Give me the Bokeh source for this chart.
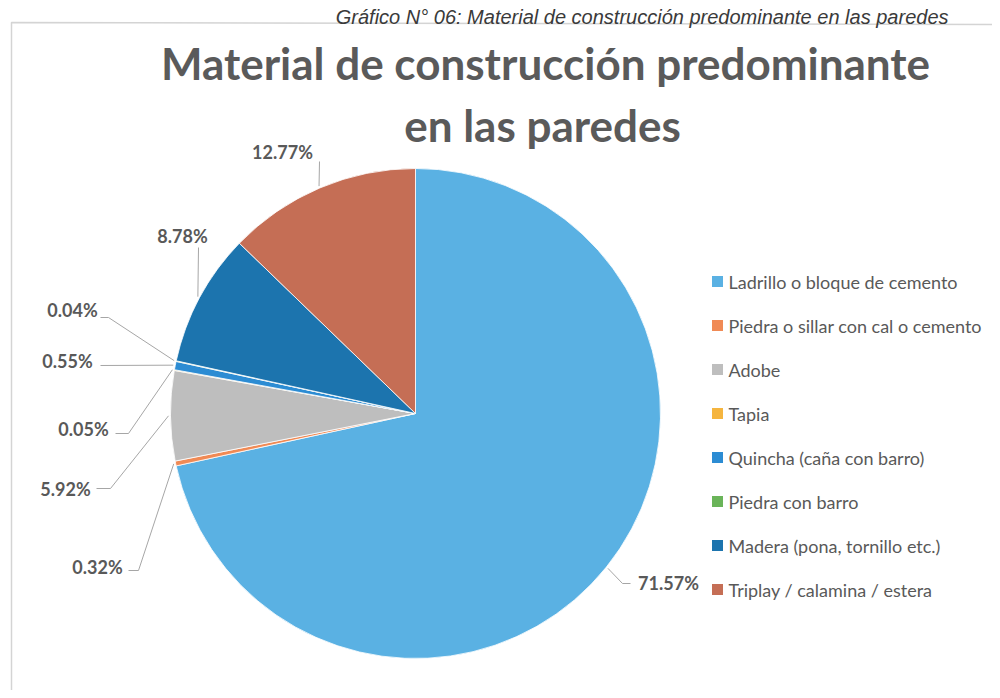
import math
from bokeh.plotting import figure
from bokeh.models import Range1d, ColumnDataSource
from bokeh.core.properties import value
from bokeh.embed import file_html
from bokeh.resources import INLINE

# ---------------- data ----------------
categories = [
    "Ladrillo o bloque de cemento",
    "Piedra o sillar con cal o cemento",
    "Adobe",
    "Tapia",
    "Quincha (caña con barro)",
    "Piedra con barro",
    "Madera (pona, tornillo etc.)",
    "Triplay / calamina / estera",
]
percentages = [71.57, 0.32, 5.92, 0.05, 0.55, 0.04, 8.78, 12.77]
colors = ["#5AB1E3", "#F08A55", "#BEBEBE", "#F5B53F", "#2C8CD3", "#6AB459", "#1C74AE", "#C56E55"]
title_lines = ["Material de construcción predominante", "en las paredes"]
caption = "Gráfico N° 06: Material de construcción predominante en las paredes"

# ---------------- layout (styles / positions) ----------------
W, H = 992, 690
def X(px):
    return px
def Y(py):
    return H - py

cx, cy, R = 415, 413, 245
# label centres and leader elbow points (picture pixel coords)
label_centres = [(668, 582), (97, 566), (65, 488), (83, 428), (67, 360), (72, 309), (182, 235), (282, 151)]
leader_mid = [[(622, 583), (630, 583)], [(138, 570), (128, 570)], [(110, 488), (96, 488)],
              [(128, 433), (115, 433)], [(100, 365)], [(108, 317), (100, 317)],
              [(198, 247)], [(319, 161)]]

p = figure(width=W, height=H, output_backend="svg", toolbar_location=None,
           x_range=Range1d(0, W), y_range=Range1d(0, H), min_border=0,
           background_fill_color="white", border_fill_color="white")
p.axis.visible = False
p.grid.visible = False
p.outline_line_color = None

# chart border
p.line([X(11), X(11), X(992)], [Y(690), Y(22), Y(24)], line_color="#d4d4d4", line_width=1.5)

# caption
p.text(x=[X(948)], y=[Y(16)], text=[caption], text_align="right", text_baseline="alphabetic",
       text_font=value("Liberation Sans"), text_font_style="italic", text_font_size="20px",
       text_color="#3a3a3a")

# title
p.text(x=[X(545), X(542)], y=[Y(62), Y(124)], text=title_lines, text_align="center",
       text_baseline="alphabetic", text_font=value("Lato"), text_font_style="bold",
       text_font_size="44px", text_color="#5a5a5a")

# wedges (clockwise from 12 o'clock)
total = sum(percentages)
starts, ends, mids = [], [], []
cum = 0.0
for v in percentages:
    a0 = math.pi / 2 - 2 * math.pi * cum / total
    cum += v
    a1 = math.pi / 2 - 2 * math.pi * cum / total
    starts.append(a0)
    ends.append(a1)
    mids.append((a0 + a1) / 2)

src = ColumnDataSource(dict(start=starts, end=ends, color=colors, cat=categories, pct=percentages))
p.wedge(x=X(cx), y=Y(cy), radius=R, start_angle="start", end_angle="end", direction="clock",
        fill_color="color", line_color="white", line_width=0.8, source=src)

# leader lines
xs, ys = [], []
for m, mid_pts in zip(mids, leader_mid):
    px0 = X(cx) + (R + 2) * math.cos(m)
    py0 = Y(cy) + (R + 2) * math.sin(m)
    xs.append([px0] + [X(a) for a, b in mid_pts])
    ys.append([py0] + [Y(b) for a, b in mid_pts])
p.multi_line(xs=xs, ys=ys, line_color="#a6a6a6", line_width=1)

# data labels
p.text(x=[X(a) for a, b in label_centres], y=[Y(b) for a, b in label_centres],
       text=[f"{v:.2f}%" for v in percentages], text_align="center", text_baseline="middle",
       text_font=value("Lato"), text_font_style="bold", text_font_size="18px", text_color="#595959")

# legend
leg_y0, leg_dy = 281, 44
leg_ys = [Y(leg_y0 + i * leg_dy) for i in range(len(categories))]
p.rect(x=[X(717)] * len(categories), y=leg_ys, width=11, height=11, fill_color=colors, line_color=None)
p.text(x=[X(728)] * len(categories), y=leg_ys, text=categories, text_align="left",
       text_baseline="middle", text_font=value("Lato"), text_font_size="18px", text_color="#595959")

open("out.html", "w").write(file_html(p, INLINE))
